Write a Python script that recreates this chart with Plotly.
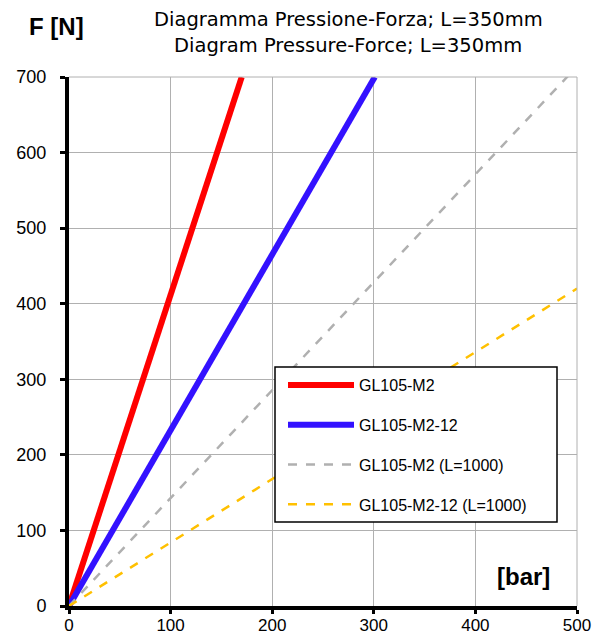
import plotly.graph_objects as go

# Data (pressure in bar, force in N)
red_p = [0, 170]
red_f = [0, 700]
blue_p = [0, 301]
blue_f = [0, 700]
gray_p = [0, 500]
gray_f = [0, 714]
yellow_p = [0, 500]
yellow_f = [0, 420]

names = ["GL105-M2", "GL105-M2-12", "GL105-M2 (L=1000)", "GL105-M2-12 (L=1000)"]
x_ticks = [0, 100, 200, 300, 400, 500]
y_ticks = [0, 100, 200, 300, 400, 500, 600, 700]

fig = go.Figure()
fig.add_trace(go.Scatter(x=red_p, y=red_f, mode="lines", name=names[0], legendgroup="a",
                         line=dict(color="#ff0000", width=6)))
fig.add_trace(go.Scatter(x=blue_p, y=blue_f, mode="lines", name=names[1], legendgroup="b",
                         line=dict(color="#3311ff", width=6)))
fig.add_trace(go.Scatter(x=gray_p, y=gray_f, mode="lines", name=names[2], legendgroup="c",
                         line=dict(color="#b0b0b0", width=2.5, dash="dash")))
fig.add_trace(go.Scatter(x=yellow_p, y=yellow_f, mode="lines", name=names[3], legendgroup="d",
                         line=dict(color="#ffc000", width=2.5, dash="dash")))

W, H = 599, 639
L, R, T, B = 69, 22, 77, 33

pw, ph = W - L - R, H - T - B
def px(xp):
    return (xp - L) / pw
def py(yp):
    return (H - B - yp) / ph

fig.update_layout(
    width=W, height=H,
    margin=dict(l=L, r=R, t=T, b=B, pad=0, autoexpand=False),
    paper_bgcolor="white", plot_bgcolor="white",
    font=dict(family="Liberation Sans, Arial, sans-serif", color="black"),
    showlegend=True,
    legend=dict(x=px(283), y=py(368), xanchor="left", yanchor="top",
                bgcolor="rgba(0,0,0,0)", borderwidth=0,
                font=dict(size=16, family="Liberation Sans, Arial, sans-serif"),
                tracegroupgap=16, itemwidth=66),
    xaxis=dict(range=[0, 500], tickvals=x_ticks, showgrid=True, gridcolor="#b0b0b0", gridwidth=1,
               showline=True, linecolor="black", linewidth=4, mirror=False, automargin=False,
               ticks="outside", ticklen=4, tickwidth=3, tickcolor="black", ticklabelstandoff=-3,
               tickfont=dict(size=17), zeroline=False, fixedrange=True),
    yaxis=dict(range=[0, 700], tickvals=y_ticks, showgrid=True, gridcolor="#b0b0b0", gridwidth=1,
               showline=True, linecolor="black", linewidth=4, mirror=False, automargin=False,
               ticks="outside", ticklen=5, tickwidth=3, tickcolor="black", ticklabelstandoff=10,
               tickfont=dict(size=18), zeroline=False, fixedrange=True),
)

fig.add_annotation(text="Diagramma Pressione-Forza; L=350mm", x=px(348), y=py(19),
                   xref="paper", yref="paper", showarrow=False, xanchor="center", yanchor="middle",
                   font=dict(size=19.5, family="DejaVu Sans, Verdana, sans-serif"))
fig.add_annotation(text="Diagram Pressure-Force; L=350mm", x=px(348), y=py(45),
                   xref="paper", yref="paper", showarrow=False, xanchor="center", yanchor="middle",
                   font=dict(size=19.5, family="DejaVu Sans, Verdana, sans-serif"))
fig.add_annotation(text="<b>F [N]</b>", x=px(56), y=py(27), xref="paper", yref="paper",
                   showarrow=False, xanchor="center", yanchor="middle", font=dict(size=24))
fig.add_annotation(text="<b>[bar]</b>", x=px(523), y=py(576), xref="paper", yref="paper",
                   showarrow=False, xanchor="center", yanchor="middle", font=dict(size=24))

# Gray top/right borders
fig.add_shape(type="line", xref="paper", yref="paper", x0=0, x1=1, y0=1, y1=1,
              line=dict(color="#b0b0b0", width=1))
fig.add_shape(type="line", xref="paper", yref="paper", x0=1, x1=1, y0=0, y1=1,
              line=dict(color="#b0b0b0", width=1))
# Legend box
fig.add_shape(type="rect", xref="paper", yref="paper", layer="above",
              x0=px(275), x1=px(557), y0=py(522), y1=py(367),
              fillcolor="white", line=dict(color="black", width=1.5))

fig.write_html("out.html", config={"displayModeBar": False},
               post_script="document.body.style.margin='0';document.body.style.overflow='hidden';")
